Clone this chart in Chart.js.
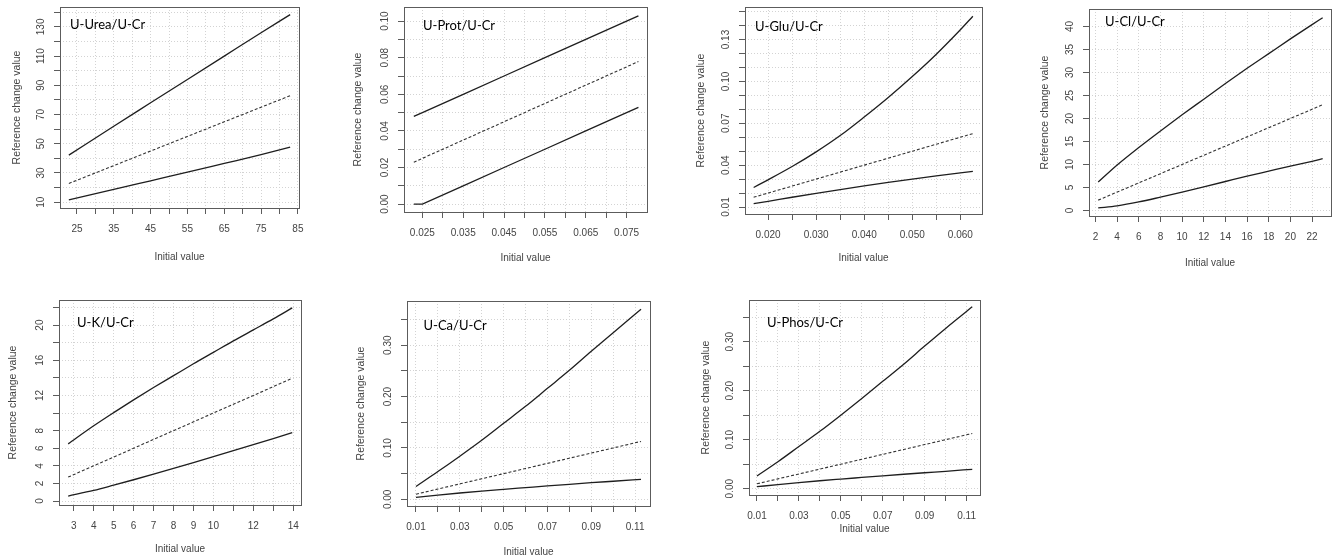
<!DOCTYPE html>
<html>
<head>
<meta charset="utf-8">
<script src="https://cdn.jsdelivr.net/npm/chart.js@4.4.1/dist/chart.umd.min.js"></script>
<style>
  html, body { margin: 0; padding: 0; background: #fff; overflow: hidden; }
  body { width: 1336px; height: 558px; position: relative; }
  canvas { position: absolute; }
</style>
</head>
<body>
<script>
// Upper limit, identity (dashed) and lower limit of the reference change value
// against the initial value, one panel per urine ratio.

// U-Urea/U-Cr
const ureaX   = [22.8, 35, 45, 55, 65, 75, 82.9];
const ureaHi  = [42.2, 62.0, 78.0, 94.0, 110.0, 126.0, 138.4];
const ureaMid = [22.8, 35, 45, 55, 65, 75, 82.9];
const ureaLo  = [11.6, 18.7, 24.6, 30.5, 36.5, 42.5, 47.6];
const ureaXTicks  = [25, 30, 35, 40, 45, 50, 55, 60, 65, 70, 75, 80, 85];
const ureaXLabels = [25, 35, 45, 55, 65, 75, 85];
const ureaYTicks  = [10, 20, 30, 40, 50, 60, 70, 80, 90, 100, 110, 120, 130, 140];
const ureaYLabels = [10, 30, 50, 70, 90, 110, 130];

// U-Prot/U-Cr
const protX   = [0.0229, 0.025, 0.035, 0.045, 0.055, 0.065, 0.075, 0.0779];
const protHi  = [0.0479, 0.050, 0.060, 0.070, 0.080, 0.090, 0.100, 0.1029];
const protMid = [0.0229, 0.025, 0.035, 0.045, 0.055, 0.065, 0.075, 0.0779];
const protLo  = [0.0, 0.0, 0.010, 0.020, 0.030, 0.040, 0.050, 0.0529];
const protXTicks  = [0.025, 0.030, 0.035, 0.040, 0.045, 0.050, 0.055, 0.060, 0.065, 0.070, 0.075];
const protXLabels = [0.025, 0.035, 0.045, 0.055, 0.065, 0.075];
const protYTicks  = [0, 0.01, 0.02, 0.03, 0.04, 0.05, 0.06, 0.07, 0.08, 0.09, 0.10];
const protYLabels = [0, 0.02, 0.04, 0.06, 0.08, 0.10];

// U-Glu/U-Cr
const gluX   = [0.0170, 0.020, 0.025, 0.030, 0.035, 0.040, 0.045, 0.050, 0.055, 0.060, 0.0626];
const gluHi  = [0.0240, 0.0295, 0.0390, 0.0495, 0.0612, 0.0745, 0.0885, 0.1035, 0.1195, 0.1370, 0.1467];
const gluMid = [0.0170, 0.020, 0.025, 0.030, 0.035, 0.040, 0.045, 0.050, 0.055, 0.060, 0.0626];
const gluLo  = [0.0124, 0.0141, 0.0170, 0.0198, 0.0225, 0.0251, 0.0276, 0.0300, 0.0323, 0.0345, 0.0356];
const gluXTicks  = [0.020, 0.025, 0.030, 0.035, 0.040, 0.045, 0.050, 0.055, 0.060];
const gluXLabels = [0.020, 0.030, 0.040, 0.050, 0.060];
const gluYTicks  = [0.01, 0.02, 0.03, 0.04, 0.05, 0.06, 0.07, 0.08, 0.09, 0.10, 0.11, 0.12, 0.13, 0.14, 0.15];
const gluYLabels = [0.01, 0.04, 0.07, 0.10, 0.13];

// U-Cl/U-Cr
const clX   = [2.25, 4, 6, 8, 10, 12, 14, 16, 18, 20, 22, 22.98];
const clHi  = [6.2, 9.9, 13.7, 17.3, 20.8, 24.2, 27.6, 30.9, 34.1, 37.3, 40.4, 41.9];
const clMid = [2.25, 4, 6, 8, 10, 12, 14, 16, 18, 20, 22, 22.98];
const clLo  = [0.55, 1.0, 1.85, 2.9, 4.0, 5.15, 6.3, 7.45, 8.55, 9.65, 10.7, 11.25];
const clXTicks  = [2, 4, 6, 8, 10, 12, 14, 16, 18, 20, 22];
const clXLabels = [2, 4, 6, 8, 10, 12, 14, 16, 18, 20, 22];
const clYTicks  = [0, 5, 10, 15, 20, 25, 30, 35, 40];
const clYLabels = [0, 5, 10, 15, 20, 25, 30, 35, 40];

// U-K/U-Cr
const kX   = [2.72, 4, 5, 6, 7, 8, 9, 10, 11, 12, 13, 13.95];
const kHi  = [6.5, 8.55, 10.05, 11.5, 12.9, 14.25, 15.6, 16.9, 18.2, 19.45, 20.7, 21.95];
const kMid = [2.72, 4, 5, 6, 7, 8, 9, 10, 11, 12, 13, 13.95];
const kLo  = [0.57, 1.2, 1.8, 2.42, 3.06, 3.71, 4.37, 5.04, 5.72, 6.41, 7.1, 7.78];
const kXTicks  = [3, 4, 5, 6, 7, 8, 9, 10, 11, 12, 13, 14];
const kXLabels = [3, 4, 5, 6, 7, 8, 9, 10, 12, 14];
const kYTicks  = [0, 2, 4, 6, 8, 10, 12, 14, 16, 18, 20, 22];
const kYLabels = [0, 2, 4, 6, 8, 12, 16, 20];

// U-Ca/U-Cr
const caX   = [0.010, 0.020, 0.030, 0.040, 0.050, 0.060, 0.070, 0.080, 0.090, 0.100, 0.1127];
const caHi  = [0.025, 0.054, 0.084, 0.115, 0.148, 0.181, 0.216, 0.251, 0.288, 0.324, 0.370];
const caMid = [0.010, 0.020, 0.030, 0.040, 0.050, 0.060, 0.070, 0.080, 0.090, 0.100, 0.1127];
const caLo  = [0.0039, 0.0083, 0.0123, 0.0160, 0.0194, 0.0227, 0.0260, 0.0292, 0.0323, 0.0352, 0.0389];
const caXTicks  = [0.01, 0.02, 0.03, 0.04, 0.05, 0.06, 0.07, 0.08, 0.09, 0.10, 0.11];
const caXLabels = [0.01, 0.03, 0.05, 0.07, 0.09, 0.11];
const caYTicks  = [0, 0.05, 0.10, 0.15, 0.20, 0.25, 0.30, 0.35];
const caYLabels = [0, 0.10, 0.20, 0.30];

// U-Phos/U-Cr
const phosX   = [0.010, 0.020, 0.030, 0.040, 0.050, 0.060, 0.070, 0.080, 0.090, 0.100, 0.1127];
const phosHi  = [0.026, 0.055, 0.086, 0.117, 0.150, 0.184, 0.219, 0.254, 0.291, 0.327, 0.371];
const phosMid = [0.010, 0.020, 0.030, 0.040, 0.050, 0.060, 0.070, 0.080, 0.090, 0.100, 0.1127];
const phosLo  = [0.0040, 0.0084, 0.0124, 0.0162, 0.0196, 0.0229, 0.0262, 0.0294, 0.0325, 0.0355, 0.0395];
const phosXTicks  = [0.01, 0.02, 0.03, 0.04, 0.05, 0.06, 0.07, 0.08, 0.09, 0.10, 0.11];
const phosXLabels = [0.01, 0.03, 0.05, 0.07, 0.09, 0.11];
const phosYTicks  = [0, 0.05, 0.10, 0.15, 0.20, 0.25, 0.30, 0.35];
const phosYLabels = [0, 0.10, 0.20, 0.30];

// look
const PAD = {left: 62, top: 8, right: 6, bottom: 62};   // canvas margin around the plot box
const TICK_LEN = 6;
const X_LABEL_GAP = 21;    // box bottom -> centre of x tick labels
const Y_LABEL_GAP = 19;    // box left -> centre of y tick labels
const SANS = '"Liberation Sans", Arial, sans-serif';
const TICK_FONT = {family: SANS, size: 10};
const X_TITLE_FONT = {family: SANS, size: 10};
const Y_TITLE_FONT = {family: SANS, size: 10.5};
const INK = '#444';
const FRAME = '#5c5c5c';
const GRID = '#d3d3d3';
const LINE = '#1e1e1e';

// box = [left, top, right, bottom] in page pixels; at = [dx, dy] of the panel label
const panels = [
  {name: 'U-Urea/U-Cr', x: ureaX, hi: ureaHi, mid: ureaMid, lo: ureaLo,
   xTicks: ureaXTicks, xLabels: ureaXLabels, xDec: 0, yTicks: ureaYTicks, yLabels: ureaYLabels, yDec: 0,
   xRange: [20.4, 85.3], yRange: [6.0, 143.6], box: [60, 7, 299, 208], at: [10, 22],
   xTitleGap: 49, yTitleGap: 42.5, smooth: true},
  {name: 'U-Prot/U-Cr', x: protX, hi: protHi, mid: protMid, lo: protLo,
   xTicks: protXTicks, xLabels: protXLabels, xDec: 3, yTicks: protYTicks, yLabels: protYLabels, yDec: 2,
   xRange: [0.0205, 0.0800], yRange: [-0.0043, 0.1077], box: [404, 7, 647, 212], at: [19, 22.5],
   xTitleGap: 46, yTitleGap: 45.5, smooth: false},
  {name: 'U-Glu/U-Cr', x: gluX, hi: gluHi, mid: gluMid, lo: gluLo,
   xTicks: gluXTicks, xLabels: gluXLabels, xDec: 3, yTicks: gluYTicks, yLabels: gluYLabels, yDec: 2,
   xRange: [0.0152, 0.0645], yRange: [0.0050, 0.1533], box: [745, 7, 982, 214], at: [10, 24],
   xTitleGap: 44, yTitleGap: 43.5, smooth: true},
  {name: 'U-Cl/U-Cr', x: clX, hi: clHi, mid: clMid, lo: clLo,
   xTicks: clXTicks, xLabels: clXLabels, xDec: 0, yTicks: clYTicks, yLabels: clYLabels, yDec: 0,
   xRange: [1.40, 23.75], yRange: [-1.2, 43.8], box: [1089, 9, 1331, 216], at: [16, 17],
   xTitleGap: 47, yTitleGap: 44, smooth: true},
  {name: 'U-K/U-Cr', x: kX, hi: kHi, mid: kMid, lo: kLo,
   xTicks: kXTicks, xLabels: kXLabels, xDec: 0, yTicks: kYTicks, yLabels: kYLabels, yDec: 0,
   xRange: [2.26, 14.39], yRange: [-0.45, 22.85], box: [59, 300, 301, 505], at: [18, 26.5],
   xTitleGap: 44, yTitleGap: 46, smooth: true},
  {name: 'U-Ca/U-Cr', x: caX, hi: caHi, mid: caMid, lo: caLo,
   xTicks: caXTicks, xLabels: caXLabels, xDec: 2, yTicks: caYTicks, yLabels: caYLabels, yDec: 2,
   xRange: [0.0059, 0.1168], yRange: [-0.013, 0.386], box: [407, 301, 650, 506], at: [16.5, 28.5],
   xTitleGap: 46, yTitleGap: 46, smooth: true},
  {name: 'U-Phos/U-Cr', x: phosX, hi: phosHi, mid: phosMid, lo: phosLo,
   xTicks: phosXTicks, xLabels: phosXLabels, xDec: 2, yTicks: phosYTicks, yLabels: phosYLabels, yDec: 2,
   xRange: [0.0062, 0.1164], yRange: [-0.0129, 0.385], box: [749, 300, 980, 495], at: [18, 26.5],
   xTitleGap: 34, yTitleGap: 42.5, smooth: true}
];

const measureCtx = document.createElement('canvas').getContext('2d');
function widest(texts, font) {
  measureCtx.font = font.size + 'px ' + font.family;
  return Math.max(...texts.map(t => measureCtx.measureText(t).width));
}
const isShown = (v, list) => list.some(l => Math.abs(l - v) < 1e-9);
const points = (xs, ys) => xs.map((x, i) => ({x, y: ys[i]}));

// frame around the plot region plus the panel name in its corner
const panelFrame = {
  id: 'panelFrame',
  afterDraw(chart, args, opts) {
    const {ctx, chartArea: a} = chart;
    ctx.save();
    ctx.strokeStyle = FRAME;
    ctx.lineWidth = 1;
    ctx.strokeRect(Math.round(a.left) + 0.5, Math.round(a.top) + 0.5,
                   Math.round(a.right - a.left), Math.round(a.bottom - a.top));
    ctx.fillStyle = '#000';
    ctx.font = '13px Lato, "Open Sans", sans-serif';
    ctx.textBaseline = 'alphabetic';
    ctx.textAlign = 'left';
    ctx.fillText(opts.text, a.left + opts.dx, a.top + opts.dy);
    ctx.restore();
  }
};

function lineSet(xs, ys, dashed, smooth) {
  return {
    data: points(xs, ys),
    borderColor: dashed ? '#333' : LINE,
    borderWidth: dashed ? 1.1 : 1.3,
    borderDash: dashed ? [3, 2] : [],
    pointRadius: 0,
    fill: false,
    tension: 0,
    cubicInterpolationMode: smooth ? 'monotone' : 'default'
  };
}

function noScalePadding(s) {
  s.paddingLeft = 0; s.paddingRight = 0; s.paddingTop = 0; s.paddingBottom = 0;
}

panels.forEach(p => {
  const [l, t, r, b] = p.box;
  const w = r - l + PAD.left + PAD.right;
  const h = b - t + PAD.top + PAD.bottom;
  const canvas = document.createElement('canvas');
  canvas.width = w;
  canvas.height = h;
  canvas.style.left = (l - PAD.left) + 'px';
  canvas.style.top = (t - PAD.top) + 'px';
  canvas.style.width = w + 'px';
  canvas.style.height = h + 'px';
  document.body.appendChild(canvas);

  const yTexts = p.yLabels.map(v => v.toFixed(p.yDec));
  const yPad = Y_LABEL_GAP - TICK_LEN - widest(yTexts, TICK_FONT) / 2;
  const xPad = X_LABEL_GAP - TICK_LEN - TICK_FONT.size * 1.2 / 2;

  new Chart(canvas, {
    type: 'line',
    data: {
      datasets: [
        lineSet(p.x, p.hi, false, p.smooth),
        lineSet(p.x, p.mid, true, p.smooth),
        lineSet(p.x, p.lo, false, p.smooth)
      ]
    },
    plugins: [panelFrame],
    options: {
      responsive: false,
      animation: false,
      devicePixelRatio: 1,
      layout: {padding: {left: 0, top: PAD.top, right: PAD.right, bottom: 0}},
      plugins: {
        legend: {display: false},
        tooltip: {enabled: false},
        panelFrame: {text: p.name, dx: p.at[0], dy: p.at[1]}
      },
      scales: {
        x: {
          type: 'linear',
          position: 'bottom',
          bounds: 'data',
          min: p.xRange[0],
          max: p.xRange[1],
          afterBuildTicks: s => { s.ticks = p.xTicks.map(v => ({value: v})); },
          afterFit: s => { s.height = PAD.bottom; noScalePadding(s); },
          grid: {color: GRID, lineWidth: 1, drawTicks: true, tickLength: TICK_LEN,
                 tickColor: FRAME, tickWidth: 1, tickBorderDash: []},
          border: {display: false, dash: [1, 2]},
          ticks: {
            autoSkip: false, minRotation: 0, maxRotation: 0, padding: xPad,
            color: INK, font: TICK_FONT,
            callback: v => isShown(v, p.xLabels) ? v.toFixed(p.xDec) : ''
          },
          title: {display: true, text: 'Initial value', color: INK, font: X_TITLE_FONT,
                  padding: {top: 0, bottom: PAD.bottom - p.xTitleGap - X_TITLE_FONT.size * 1.2 / 2}}
        },
        y: {
          type: 'linear',
          position: 'left',
          bounds: 'data',
          min: p.yRange[0],
          max: p.yRange[1],
          afterBuildTicks: s => { s.ticks = p.yTicks.map(v => ({value: v})); },
          afterFit: s => { s.width = PAD.left; noScalePadding(s); },
          grid: {color: GRID, lineWidth: 1, drawTicks: true, tickLength: TICK_LEN,
                 tickColor: FRAME, tickWidth: 1, tickBorderDash: []},
          border: {display: false, dash: [1, 2]},
          ticks: {
            autoSkip: false, minRotation: 90, maxRotation: 90, crossAlign: 'center', padding: yPad,
            color: INK, font: TICK_FONT,
            callback: v => isShown(v, p.yLabels) ? v.toFixed(p.yDec) : ''
          },
          title: {display: true, text: 'Reference change value', color: INK, font: Y_TITLE_FONT,
                  padding: {top: PAD.left - p.yTitleGap - Y_TITLE_FONT.size * 1.2 / 2, bottom: 0}}
        }
      }
    }
  });
});
</script>
</body>
</html>
